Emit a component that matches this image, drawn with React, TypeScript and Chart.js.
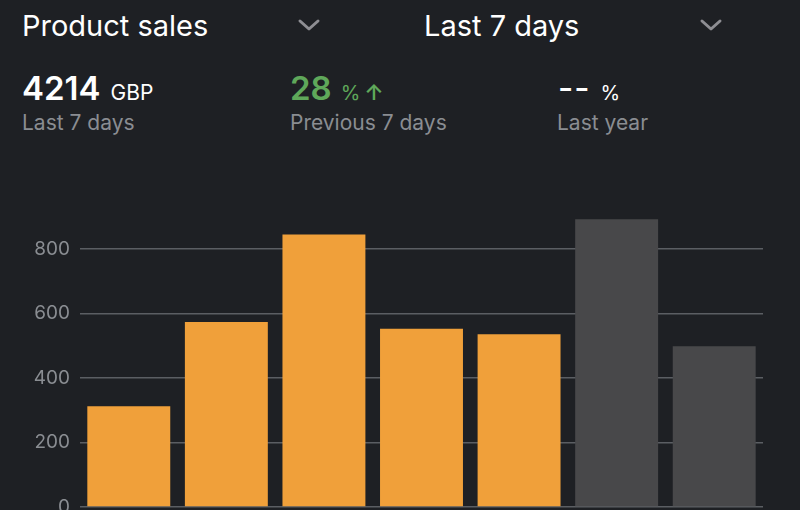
import React, { useEffect, useRef } from "react";
import { Chart, registerables } from "chart.js";

Chart.register(...registerables);

const categories = ["Day 1", "Day 2", "Day 3", "Day 4", "Day 5", "Day 6", "Day 7"];
const salesValues = [313, 574, 846, 553, 536, 893, 499];
const barColors = ["#f0a03a", "#f0a03a", "#f0a03a", "#f0a03a", "#f0a03a", "#48484a", "#48484a"];
const yTicks = [0, 200, 400, 600, 800];

const BG = "#1e2024";
const GREY = "#8a8d92";
const FONT = "Inter, 'Noto Sans', sans-serif";

function Chevron({ left }: { left: number }) {
  return (
    <svg style={{ position: "absolute", left, top: 15, width: 24, height: 20 }} viewBox="0 0 24 20">
      <polyline points="3,6 12,14 21,6" fill="none" stroke="#8e8e93" strokeWidth={3} strokeLinecap="round" strokeLinejoin="round" />
    </svg>
  );
}

export default function App() {
  const ref = useRef<HTMLCanvasElement | null>(null);

  useEffect(() => {
    if (!ref.current) return;
    const chart = new Chart(ref.current, {
      type: "bar",
      data: {
        labels: categories,
        datasets: [
          {
            data: salesValues,
            backgroundColor: barColors,
            borderWidth: 0,
            barPercentage: 0.85,
            categoryPercentage: 1,
          },
        ],
      },
      options: {
        animation: false,
        responsive: false,
        maintainAspectRatio: false,
        layout: { padding: { top: 17, right: 37, bottom: 22, left: 0 } },
        plugins: { legend: { display: false }, tooltip: { enabled: false } },
        scales: {
          x: { display: false },
          y: {
            min: 0,
            max: 900,
            border: { display: false },
            grid: { color: "#5b5e63", lineWidth: 1.5, drawTicks: false },
            ticks: {
              color: GREY,
              padding: 10,
              font: { family: FONT, size: 19 },
              stepSize: 200,
            },
            afterBuildTicks: (axis: any) => {
              axis.ticks = yTicks.map((v) => ({ value: v }));
            },
            afterFit: (scale: any) => {
              scale.width = 80;
              scale.paddingTop = 0;
              scale.paddingBottom = 0;
            },
          },
        },
      },
    });
    return () => chart.destroy();
  }, []);

  const abs = (left: number, top: number, extra: React.CSSProperties = {}): React.CSSProperties => ({
    position: "absolute",
    left,
    top,
    lineHeight: 1,
    whiteSpace: "nowrap",
    ...extra,
  });

  return (
    <div style={{ position: "fixed", left: 0, top: 0, width: 800, height: 510, background: BG, overflow: "hidden", fontFamily: FONT }}>
      <div style={abs(22, 11, { fontSize: 29, color: "#ffffff" })}>Product sales</div>
      <Chevron left={297} />
      <div style={abs(424, 11, { fontSize: 29, color: "#ffffff" })}>Last 7 days</div>
      <Chevron left={699} />

      <div style={abs(22, 72, { color: "#ffffff", display: "flex", alignItems: "baseline" })}>
        <span style={{ fontSize: 33, fontWeight: 600 }}>4214</span>
        <span style={{ fontSize: 21, marginLeft: 10 }}>GBP</span>
      </div>
      <div style={abs(22, 112, { fontSize: 21, color: GREY })}>Last 7 days</div>

      <div style={abs(290, 72, { color: "#5fa85a", display: "flex", alignItems: "baseline" })}>
        <span style={{ fontSize: 33, fontWeight: 600 }}>28</span>
        <span style={{ fontSize: 20, marginLeft: 9 }}>%</span>
        <span style={{ fontSize: 22, marginLeft: 4, fontWeight: 600 }}>↑</span>
      </div>
      <div style={abs(290, 112, { fontSize: 21, color: GREY })}>Previous 7 days</div>

      <div style={abs(558, 72, { color: "#ffffff", display: "flex", alignItems: "baseline" })}>
        <span style={{ fontSize: 33, fontWeight: 500, letterSpacing: 1 }}>--</span>
        <span style={{ fontSize: 20, marginLeft: 10 }}>%</span>
      </div>
      <div style={abs(557, 112, { fontSize: 21, color: GREY })}>Last year</div>

      <canvas ref={ref} width={800} height={329} style={{ position: "absolute", left: 0, top: 200, width: 800, height: 329 }} />
    </div>
  );
}
